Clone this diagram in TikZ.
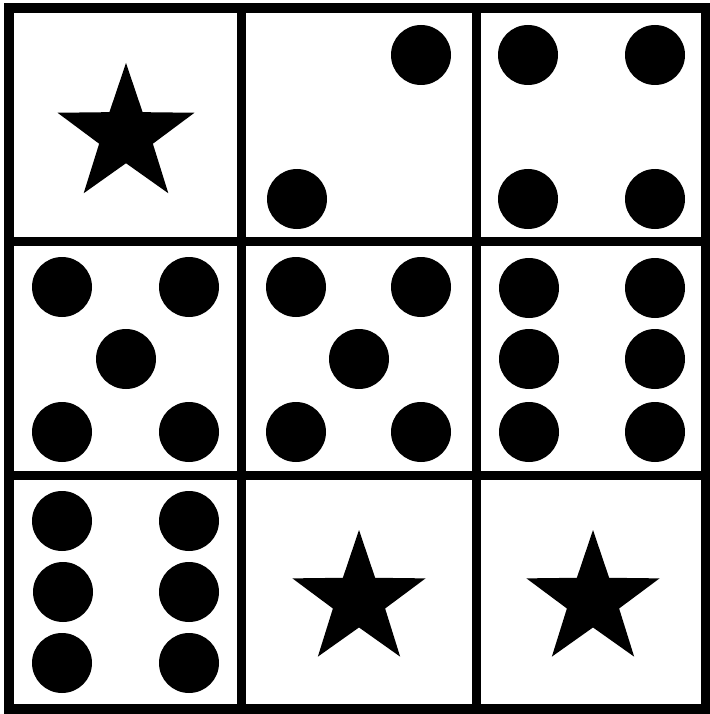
\documentclass[tikz,border=0pt]{standalone}
\usetikzlibrary{shapes.geometric}
\begin{document}
\begin{tikzpicture}[x=1pt,y=-1pt,
  pip/.style={fill=black,draw=none},
  bigstar/.style={star,star points=5,star point ratio=2.55,fill=black,draw=none,inner sep=0pt,shape border rotate=0},
  outerline/.style={line width=10pt},
  innerline/.style={line width=9pt}]
\useasboundingbox (0,0) rectangle (709,714);
\fill[white] (0,0) rectangle (709,714);
% grid
\draw[innerline] (241,8.5) -- (241,709);
\draw[innerline] (476,8.5) -- (476,709);
\draw[innerline] (9,241) -- (706,241);
\draw[innerline] (9,475) -- (706,475);
\draw[outerline] (9,8.5) rectangle (706,709);
% stars
\node[bigstar,minimum size=144pt] (s1) at (126,135) {};
\node[bigstar,minimum size=140pt] (s2) at (359,600) {};
\node[bigstar,minimum size=140pt] (s3) at (593,600) {};
% row 1 col 2
\foreach \p in {(421,55),(297,199)} \fill[pip] \p circle (30);
% row 1 col 3
\foreach \p in {(528,55),(655,55),(528,199),(655,199)} \fill[pip] \p circle (30);
% row 2 col 1
\foreach \p in {(62,287),(189,287),(126,359),(62,432),(189,432)} \fill[pip] \p circle (30);
% row 2 col 2
\foreach \p in {(296,287),(421,287),(359,359),(296,432),(421,432)} \fill[pip] \p circle (30);
% row 2 col 3
\foreach \p in {(529,288),(655,288),(529,359),(655,359),(529,432),(655,432)} \fill[pip] \p circle (30);
% row 3 col 1
\foreach \p in {(62,521),(189,521),(63,592),(189,592),(62,663),(189,663)} \fill[pip] \p circle (30);
\end{tikzpicture}
\end{document}
